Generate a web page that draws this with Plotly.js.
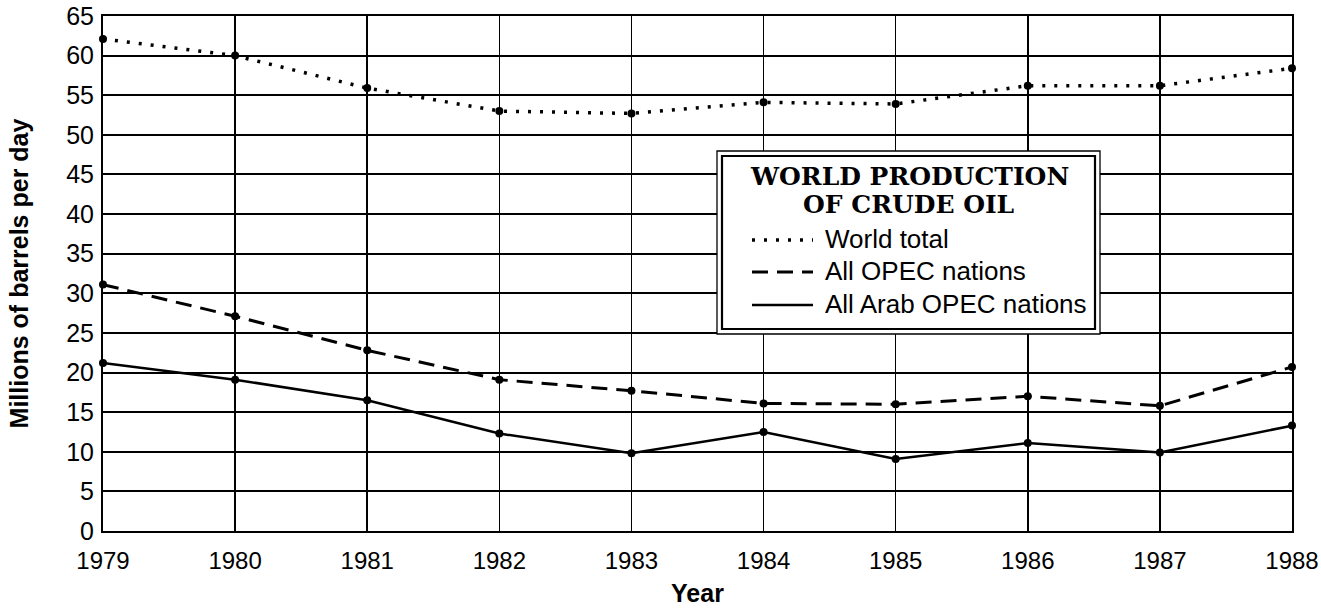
<!DOCTYPE html>
<html>
<head>
<meta charset="utf-8">
<script src="https://cdn.plot.ly/plotly-3.0.1.min.js"></script>
<style>
html,body{margin:0;padding:0;background:#fff;}
#chart{width:1321px;height:609px;}
</style>
</head>
<body>
<div id="chart"></div>
<script>
var years = [1979, 1980, 1981, 1982, 1983, 1984, 1985, 1986, 1987, 1988];
var worldTotal = [62.1, 60.0, 55.9, 53.0, 52.7, 54.1, 53.9, 56.2, 56.2, 58.4];
var allOpec = [31.1, 27.1, 22.8, 19.1, 17.7, 16.1, 16.0, 17.0, 15.8, 20.7];
var arabOpec = [21.2, 19.1, 16.5, 12.3, 9.8, 12.5, 9.1, 11.1, 9.9, 13.3];
var seriesNames = ["World total", "All OPEC nations", "All Arab OPEC nations"];
var legendTitle = ["WORLD PRODUCTION", "OF CRUDE OIL"];
var yTicks = [0, 5, 10, 15, 20, 25, 30, 35, 40, 45, 50, 55, 60, 65];

var sans = "Liberation Sans, Arial, sans-serif";
var serif = "DejaVu Serif, Liberation Serif, serif";

var styles = [
  {dash: "3px,9px", width: 3.5},
  {dash: "16px,9px", width: 3},
  {dash: "solid", width: 2.5}
];
var seriesValues = [worldTotal, allOpec, arabOpec];

var data = [];
seriesValues.forEach(function (vals, i) {
  data.push({
    x: years, y: vals, name: seriesNames[i], type: "scatter", mode: "lines",
    line: {color: "#000", width: styles[i].width, dash: styles[i].dash},
    hoverinfo: "skip", showlegend: false
  });
});
seriesValues.forEach(function (vals) {
  data.push({
    x: years, y: vals, type: "scatter", mode: "markers", showlegend: false,
    marker: {color: "#000", size: 8}, cliponaxis: false, hoverinfo: "skip"
  });
});

// Legend drawn as a framed box (pixel positions converted to paper fractions)
var ML = 103, MR = 29, MT = 16, MB = 78;
var L = ML, W = 1321 - ML - MR, B = 609 - MB, H = 609 - MT - MB;
function px(x) { return (x - L) / W; }
function py(y) { return (B - y) / H; }

var shapes = [
  {type: "rect", xref: "paper", yref: "paper", x0: px(717), x1: px(1100), y0: py(334), y1: py(151),
   fillcolor: "#fff", line: {color: "#000", width: 1.3}, layer: "above"},
  {type: "rect", xref: "paper", yref: "paper", x0: px(722), x1: px(1095), y0: py(329), y1: py(156),
   fillcolor: "#fff", line: {color: "#000", width: 2.2}, layer: "above"}
];
var annotations = [];
var titleY = [177, 205];
legendTitle.forEach(function (t, i) {
  annotations.push({
    xref: "paper", yref: "paper", x: px(909), y: py(titleY[i]), xanchor: "center", yanchor: "middle",
    text: "<b>" + t + "</b>", showarrow: false,
    font: {family: serif, size: 25, color: "#000"}
  });
});
var entryY = [240, 272, 305];
seriesNames.forEach(function (n, i) {
  shapes.push({type: "line", xref: "paper", yref: "paper", x0: px(752), x1: px(813),
    y0: py(entryY[i]), y1: py(entryY[i]),
    line: {color: "#000", width: styles[i].width, dash: styles[i].dash}, layer: "above"});
  annotations.push({
    xref: "paper", yref: "paper", x: px(823), y: py(entryY[i] - 1), xanchor: "left", yanchor: "middle",
    text: n, showarrow: false, font: {family: sans, size: 26, color: "#000"}
  });
});

var layout = {
  width: 1321, height: 609,
  margin: {l: ML, r: MR, t: MT, b: MB},
  paper_bgcolor: "#fff", plot_bgcolor: "#fff",
  showlegend: false,
  shapes: shapes,
  annotations: annotations,
  xaxis: {
    range: [1979, 1988], tickvals: years, ticktext: years.map(String),
    showgrid: true, gridcolor: "#000", gridwidth: 1.5,
    showline: true, linecolor: "#000", linewidth: 2, mirror: true,
    zeroline: false, ticks: "", ticklen: 0, ticklabelstandoff: 7,
    ticklabeloverflow: "allow",
    tickfont: {family: sans, size: 24, color: "#000"},
    title: {text: "<b>Year</b>", font: {family: sans, size: 25, color: "#000"}, standoff: 12}
  },
  yaxis: {
    range: [0, 65], tickvals: yTicks,
    showgrid: true, gridcolor: "#000", gridwidth: 2,
    showline: true, linecolor: "#000", linewidth: 2, mirror: true,
    zeroline: false, ticks: "", ticklen: 0, ticklabelstandoff: 2,
    tickfont: {family: sans, size: 25, color: "#000"},
    title: {text: "<b>Millions of barrels per day</b>", font: {family: sans, size: 25, color: "#000"}, standoff: 30}
  }
};

Plotly.newPlot("chart", data, layout, {displayModeBar: false, staticPlot: true});
</script>
</body>
</html>
